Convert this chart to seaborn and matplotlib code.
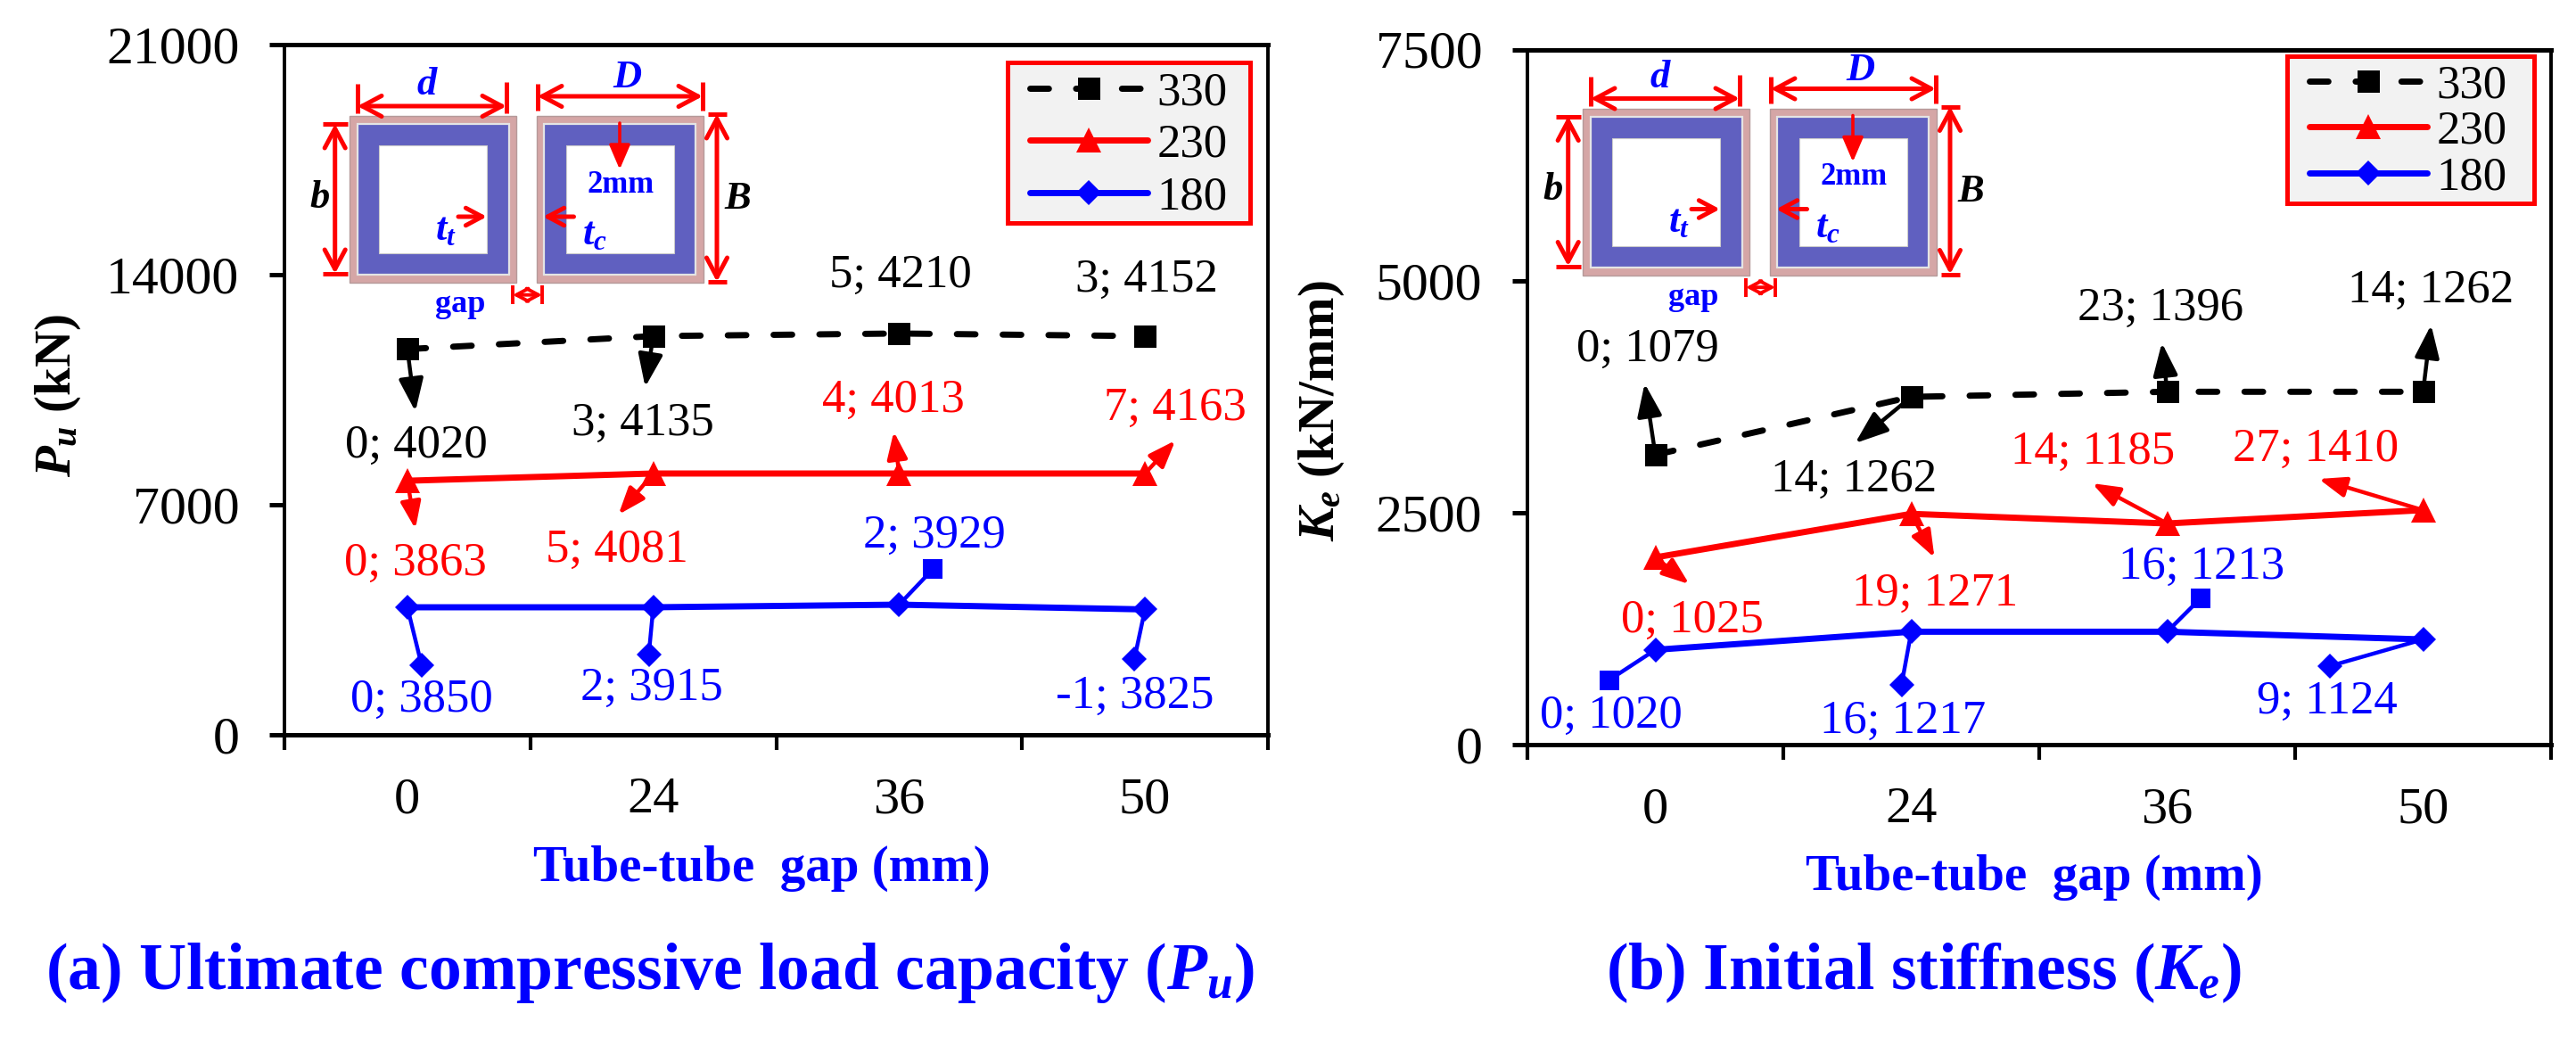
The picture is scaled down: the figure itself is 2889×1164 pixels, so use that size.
import matplotlib
matplotlib.use("Agg")
import matplotlib.pyplot as plt
from matplotlib.patches import Rectangle
from matplotlib.transforms import ScaledTranslation
import pandas as pd
import seaborn as sns

W, H, DPI = 2889, 1164, 100
sns.set_theme(style="white")
plt.rcParams["font.family"] = ["Liberation Serif", "DejaVu Serif"]
plt.rcParams.update({
    "mathtext.fontset": "custom",
    "mathtext.rm": "Liberation Serif:bold",
    "mathtext.it": "Liberation Serif:italic:bold",
    "mathtext.bf": "Liberation Serif:bold",
    "text.color": "black",
    "axes.labelcolor": "black",
    "xtick.color": "black",
    "ytick.color": "black",
})

# ---------- data ----------
gaps = ["0", "24", "36", "50"]
series_names = ["330", "230", "180"]

pu_330 = [11735, 12130, 12210, 12130]
pu_230 = [7730, 7950, 7950, 7950]
pu_180 = [3880, 3880, 3960, 3815]

ke_330 = [3127, 3752, 3807, 3807]
ke_230 = [2020, 2490, 2386, 2530]
ke_180 = [1023, 1218, 1218, 1135]

pu_labels_330 = ["0; 4020", "3; 4135", "5; 4210", "3; 4152"]
pu_labels_230 = ["0; 3863", "5; 4081", "4; 4013", "7; 4163"]
pu_labels_180 = ["0; 3850", "2; 3915", "2; 3929", "-1; 3825"]

ke_labels_330 = ["0; 1079", "14; 1262", "23; 1396", "14; 1262"]
ke_labels_230 = ["0; 1025", "19; 1271", "14; 1185", "27; 1410"]
ke_labels_180 = ["0; 1020", "16; 1217", "16; 1213", "9; 1124"]

pu_ticks = [0, 7000, 14000, 21000]
ke_ticks = [0, 2500, 5000, 7500]

# ---------- layout (pixel offsets from each point: right, up) ----------
pu_tip_330 = [(9, -70), (-9, -57), None, None]
pu_txt_330 = [(10, -108), (-12, -98), (2, 65), (2, 63)]
pu_tip_230 = [(9, -54), (-39, -46), (-6, 47), (34, 37)]
pu_txt_230 = [(9, -93), (-41, -86), (-6, 82), (34, 73)]
pu_end_180 = [(16, -65), (-5, -53), (38, 40), (-12, -56)]
pu_mrk_180 = ["D", "D", "s", "D"]
pu_txt_180 = [(16, -104), (-2, -91), (40, 77), (-11, -97)]

ke_tip_330 = [(-12, 80), (-63, -52), (-6, 55), (9, 75)]
ke_txt_330 = [(-9, 118), (-64, -93), (-7, 93), (9, 113)]
ke_tip_230 = [(38, -30), (26, -49), (-84, 45), (-117, 35)]
ke_txt_230 = [(41, -71), (27, -90), (-83, 80), (-120, 68)]
ke_end_180 = [(-52, -34), (-11, -60), (37, 37), (-105, -30)]
ke_mrk_180 = ["s", "D", "s", "D"]
ke_txt_180 = [(-50, -74), (-9, -100), (39, 73), (-108, -70)]

RED = "#ff0000"
BLUE = "#0000ff"
PINK = "#d5a6a6"
STEEL = "#6060c0"
palette = dict(zip(series_names, ["black", RED, BLUE]))
markers = dict(zip(series_names, ["s", "^", "D"]))
dashes = dict(zip(series_names, [(3.0, 4.4), "", ""]))
msize = dict(zip(series_names, [18, 20, 14.5]))

fig = plt.figure(figsize=(W / DPI, H / DPI), dpi=DPI, facecolor="white")


def make_axes(left, right, top, bottom):
    return fig.add_axes([left / W, 1 - bottom / H, (right - left) / W, (bottom - top) / H])


def fig_xy(x_px, y_px):
    return fig.transFigure.inverted().transform((x_px, y_px))


def draw_panel(ax, v330, v230, v180, yticks, ylabel, ylabel_xy, xlabel_xy, legend_box, legend_anchor, lspace,
               l330, t330, tip330, l230, t230, tip230, l180, t180, end180, mrk180):
    df = pd.DataFrame({
        "pos": list(range(len(gaps))) * 3,
        "value": v330 + v230 + v180,
        "series": [s for s in series_names for _ in gaps],
    })
    sns.lineplot(data=df, x="pos", y="value", hue="series", style="series", hue_order=series_names,
                 style_order=series_names, palette=palette, markers=markers, dashes=dashes,
                 linewidth=5, markersize=18, markeredgewidth=0, ax=ax, legend="full")
    for line, s in zip(ax.get_lines(), series_names):
        line.set_dash_capstyle("round")
        line.set_solid_capstyle("round")
        line.set_markersize(msize[s])

    ax.set_xlim(-0.5, len(gaps) - 0.5)
    ax.set_ylim(yticks[0], yticks[-1])
    ax.set_yticks(yticks)
    ax.set_xticks([i - 0.5 for i in range(len(gaps) + 1)])
    ax.set_xticklabels([])
    ax.set_xticks(range(len(gaps)), labels=gaps, minor=True)
    ax.tick_params(axis="x", which="major", direction="out", length=12, width=3, color="black", bottom=True)
    ax.tick_params(axis="x", which="minor", length=0, pad=34, labelsize=42, bottom=True)
    ax.tick_params(axis="y", direction="out", length=12.5, width=3.6, color="black", left=True, pad=24, labelsize=43)
    for name, sp in ax.spines.items():
        sp.set_visible(True)
        sp.set_color("black")
        sp.set_linewidth(3.6 if name in ("top", "bottom") else 2.8)

    bb = ax.get_position()
    ax.set_ylabel(ylabel, fontsize=41, fontweight="bold")
    ax.yaxis.set_label_coords((ylabel_xy[0] / W - bb.x0) / bb.width, (1 - ylabel_xy[1] / H - bb.y0) / bb.height,
                              transform=ax.transAxes)
    ax.yaxis.label.set_verticalalignment("center")
    ax.set_xlabel("Tube-tube  gap (mm)", fontsize=41, fontweight="bold", color=BLUE)
    ax.xaxis.set_label_coords((xlabel_xy[0] / W - bb.x0) / bb.width, (1 - xlabel_xy[1] / H - bb.y0) / bb.height,
                              transform=ax.transAxes)
    ax.xaxis.label.set_verticalalignment("center")

    # labels with arrows starting on the points
    for vals, labs, txts, tips, col, ms in ((v330, l330, t330, tip330, "black", 28),
                                            (v230, l230, t230, tip230, RED, 23)):
        for i, (v, lab, tx, tp) in enumerate(zip(vals, labs, txts, tips)):
            ax.annotate(lab, xy=(i, v), xytext=tx, textcoords="offset pixels", ha="center", va="center",
                        fontsize=38, color=col, annotation_clip=False)
            if tp is not None:
                px, py = ax.transData.transform((i, v))
                ax.annotate("", xy=fig_xy(px + tp[0], py + tp[1]), xycoords="figure fraction",
                            xytext=fig_xy(px, py), textcoords="figure fraction",
                            arrowprops=dict(arrowstyle="-|>,head_length=0.8,head_width=0.3", color=col, lw=3.2,
                                            mutation_scale=ms, shrinkA=0, shrinkB=0), zorder=6)
    # labels with a leader and an end marker
    for i, (v, lab, tx, en, mk) in enumerate(zip(v180, l180, t180, end180, mrk180)):
        ax.annotate(lab, xy=(i, v), xytext=tx, textcoords="offset pixels", ha="center", va="center",
                    fontsize=38, color=BLUE, annotation_clip=False)
        tr = ax.transData + ScaledTranslation(en[0] / DPI, en[1] / DPI, fig.dpi_scale_trans)
        ax.plot([i], [v], marker=mk, ms=14.5 if mk == "D" else 16, color=BLUE, mew=0, transform=tr,
                clip_on=False, zorder=6)
        px, py = ax.transData.transform((i, v))
        ax.annotate("", xy=fig_xy(px + en[0], py + en[1]), xycoords="figure fraction",
                    xytext=fig_xy(px, py), textcoords="figure fraction",
                    arrowprops=dict(arrowstyle="-", color=BLUE, lw=3.2, shrinkA=0, shrinkB=0), zorder=6)

    # legend: box first, entries on top
    handles, labels = ax.get_legend_handles_labels()
    for h, s in zip(handles, labels):
        h.set_markersize(msize[s])
        h.set_markeredgewidth(0)
        h.set_linewidth(5)
        h.set_dash_capstyle("round")
        h.set_solid_capstyle("round")
    bx0, by0, bx1, by1 = legend_box
    ax.add_patch(Rectangle((bx0 / W, 1 - by1 / H), (bx1 - bx0) / W, (by1 - by0) / H, transform=fig.transFigure,
                           fc="#f2f2f2", ec=RED, lw=3.6, zorder=9, clip_on=False))
    leg = ax.legend(handles, labels, loc="upper left", bbox_to_anchor=(legend_anchor[0] / W, 1 - legend_anchor[1] / H),
                    bbox_transform=fig.transFigure, fontsize=38, frameon=False, borderaxespad=0, borderpad=0,
                    labelspacing=lspace, handlelength=2.5, handletextpad=0.2)
    leg.set_zorder(10)


ax1 = make_axes(319, 1422, 50, 824)
ax2 = make_axes(1713, 2861, 55.5, 835)

draw_panel(ax1, pu_330, pu_230, pu_180, pu_ticks, r"$P_u$ (kN)", (65, 444), (854, 974),
           (1130, 70, 1401.5, 249.5), (1155, 80), 0.2,
           pu_labels_330, pu_txt_330, pu_tip_330, pu_labels_230, pu_txt_230, pu_tip_230,
           pu_labels_180, pu_txt_180, pu_end_180, pu_mrk_180)
draw_panel(ax2, ke_330, ke_230, ke_180, ke_ticks, r"$K_e$ (kN/mm)", (1482, 461), (2281, 984),
           (2565, 63, 2842, 228), (2590, 72), 0.07,
           ke_labels_330, ke_txt_330, ke_tip_330, ke_labels_230, ke_txt_230, ke_tip_230,
           ke_labels_180, ke_txt_180, ke_end_180, ke_mrk_180)

# ---------- overlay: section sketches and captions (figure pixels) ----------
ov = fig.add_axes([0, 0, 1, 1], zorder=20)
ov.set_xlim(0, W)
ov.set_ylim(H, 0)
ov.axis("off")
ov.patch.set_alpha(0)


def dim(x1, y1, x2, y2, style="<->", lw=3.6, ms=26):
    ov.annotate("", xy=(x2, y2), xytext=(x1, y1),
                arrowprops=dict(arrowstyle=style + ",head_length=0.6,head_width=0.32", color=RED, lw=lw,
                                mutation_scale=ms, shrinkA=0, shrinkB=0))


def seg(x1, y1, x2, y2, lw=3.6):
    ov.plot([x1, x2], [y1, y2], color=RED, lw=lw, solid_capstyle="butt")


def tube(x0, y0):
    ov.add_patch(Rectangle((x0, y0), 187, 187, fc=PINK, ec="#b59a9a", lw=1))
    ov.add_patch(Rectangle((x0 + 8.5, y0 + 9), 170, 169, fc=STEEL, ec="#e4e4e4", lw=1.6))
    ov.add_patch(Rectangle((x0 + 33, y0 + 33), 121, 121, fc="white", ec="#cccccc", lw=0.8))


def sketch(ox, oy):
    tube(392 + ox, 130 + oy)
    tube(601.5 + ox, 130 + oy)
    dim(401 + ox, 119 + oy, 568 + ox, 119 + oy)
    seg(401 + ox, 94 + oy, 401 + ox, 127 + oy)
    seg(568 + ox, 92 + oy, 568 + ox, 127 + oy)
    dim(603 + ox, 108 + oy, 788 + ox, 108 + oy)
    seg(603 + ox, 94 + oy, 603 + ox, 124 + oy)
    seg(788 + ox, 92 + oy, 788 + ox, 124 + oy)
    dim(375.7 + ox, 139 + oy, 375.7 + ox, 307 + oy)
    seg(361.5 + ox, 139 + oy, 390 + ox, 139 + oy)
    seg(361.5 + ox, 307 + oy, 390 + ox, 307 + oy)
    dim(804 + ox, 128 + oy, 804 + ox, 316 + oy)
    seg(793.6 + ox, 128 + oy, 815 + ox, 128 + oy)
    seg(793.6 + ox, 316 + oy, 815 + ox, 316 + oy)
    dim(575 + ox, 330.7 + oy, 608 + ox, 330.7 + oy, lw=2.8, ms=16)
    seg(575 + ox, 320 + oy, 575 + ox, 341 + oy, lw=2.8)
    seg(608 + ox, 320 + oy, 608 + ox, 341 + oy, lw=2.8)
    dim(514 + ox, 243 + oy, 546 + ox, 243 + oy, style="->", ms=22)
    dim(643.5 + ox, 243 + oy, 609 + ox, 243 + oy, style="->", ms=22)
    ov.annotate("", xy=(695 + ox, 190 + oy), xytext=(695 + ox, 138 + oy),
                arrowprops=dict(arrowstyle="-|>,head_length=0.7,head_width=0.3", color=RED, lw=2.6,
                                mutation_scale=24, shrinkA=0, shrinkB=0))
    kw = dict(ha="center", va="center", fontsize=32)
    ov.text(479 + ox, 95 + oy, r"$d$", color=BLUE, **kw)
    ov.text(704 + ox, 87 + oy, r"$D$", color=BLUE, **kw)
    ov.text(358.5 + ox, 222 + oy, r"$b$", color="black", **kw)
    ov.text(827 + ox, 223 + oy, r"$B$", color="black", **kw)
    ov.text(696 + ox, 207 + oy, "2mm", color=BLUE, fontweight="bold", ha="center", va="center", fontsize=25)
    ov.text(500 + ox, 258 + oy, r"$t_t$", color=BLUE, **kw)
    ov.text(666.5 + ox, 263 + oy, r"$t_c$", color=BLUE, **kw)
    ov.text(516 + ox, 342 + oy, "gap", color=BLUE, fontweight="bold", ha="center", va="center", fontsize=26)


sketch(0, 0)
sketch(1383, -8.5)

ov.text(729, 1091, r"(a) Ultimate compressive load capacity ($P_u$)", color=BLUE, fontsize=53, fontweight="bold",
        ha="center", va="center")
ov.text(2157, 1091, r"(b) Initial stiffness ($K_e$)", color=BLUE, fontsize=53, fontweight="bold",
        ha="center", va="center")

fig.savefig("out.png", dpi=DPI, facecolor="white")
